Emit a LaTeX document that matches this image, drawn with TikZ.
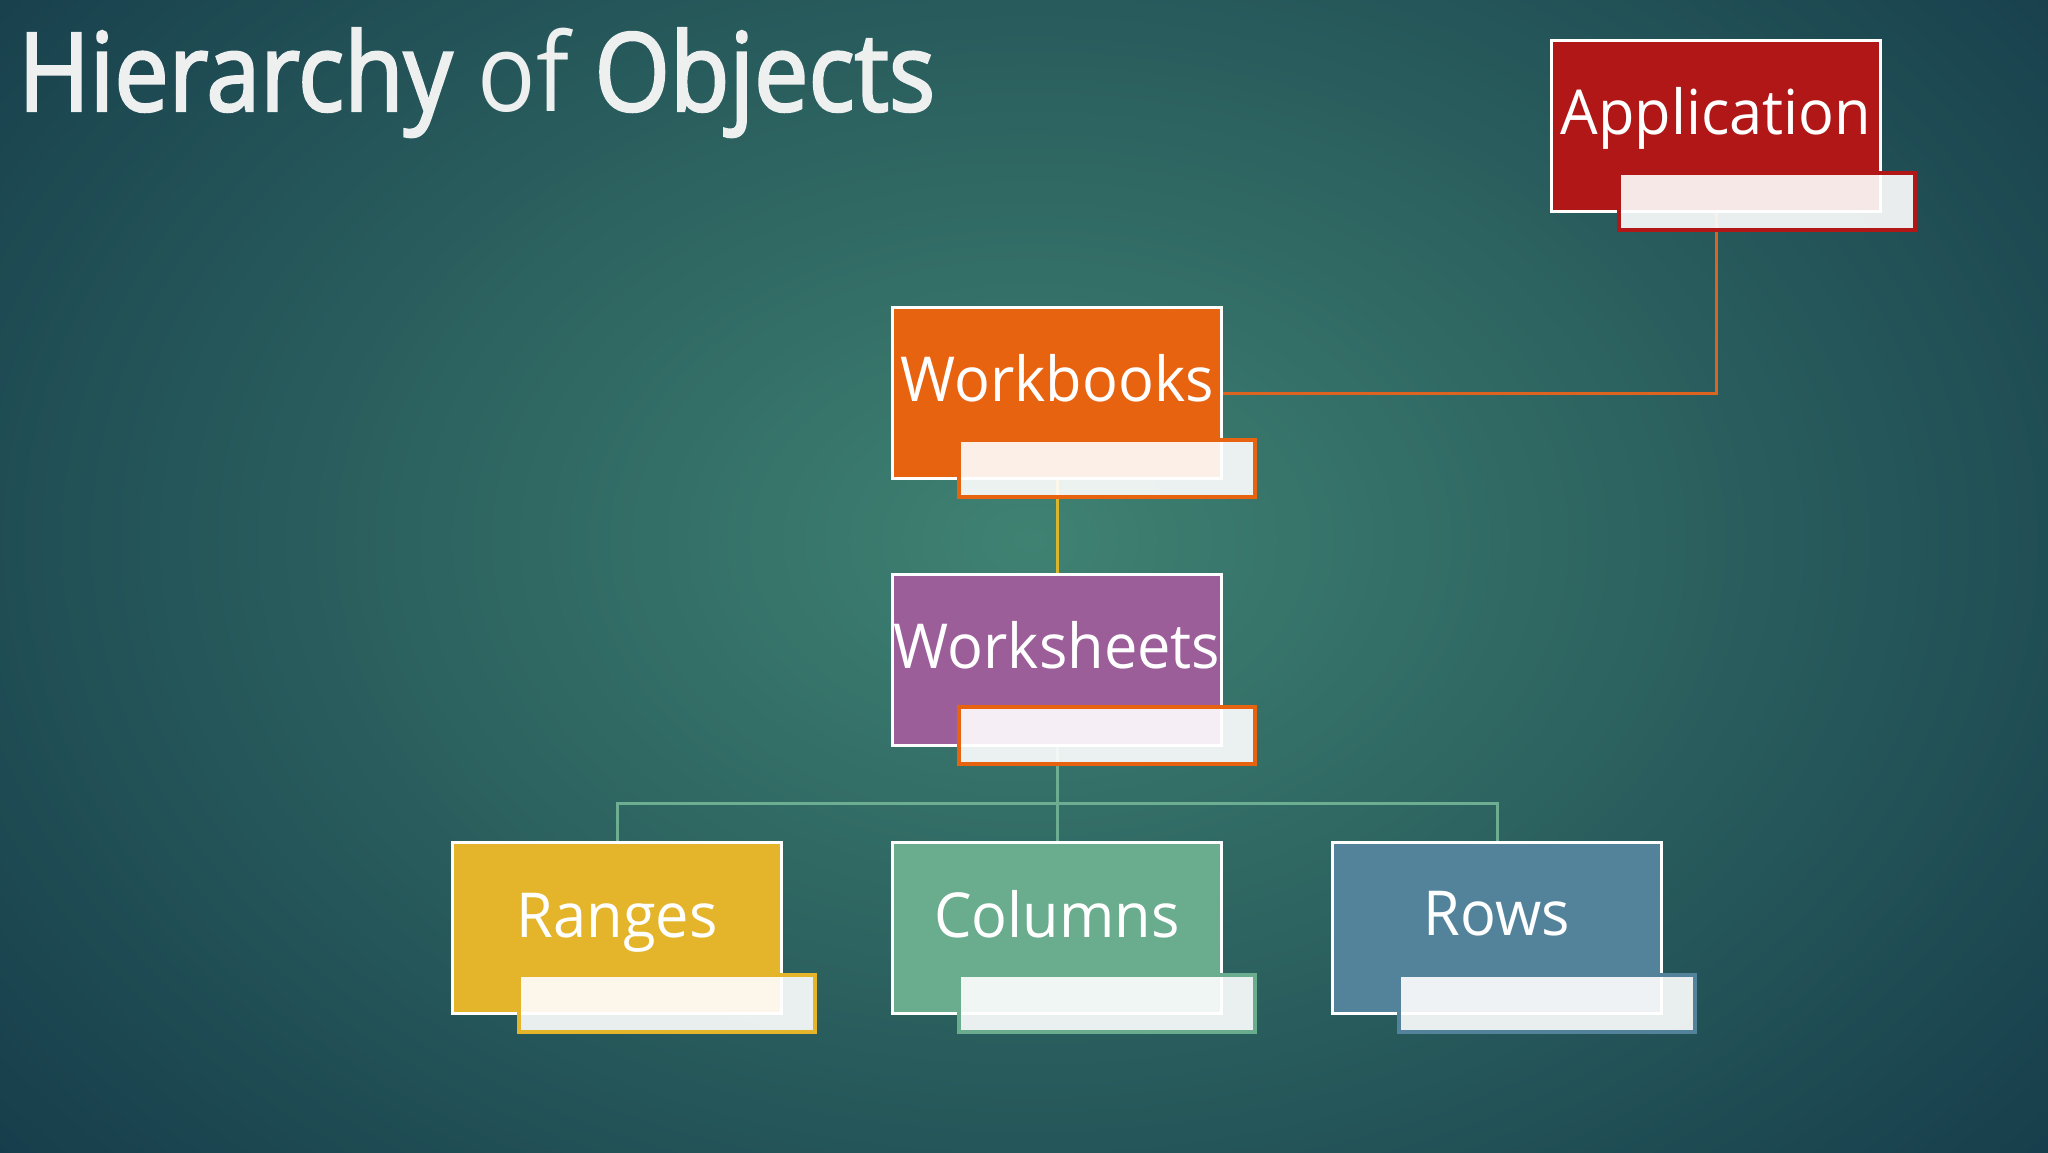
\documentclass[tikz,border=0pt]{standalone}
\usepackage{fontspec}
\setmainfont{Open Sans}
\newfontfamily\boxfont{Open Sans}[FakeStretch=0.96]
\newfontfamily\titlefont{Open Sans}[FakeStretch=0.89]
\newfontfamily\titleboldfont{Open Sans}[FakeStretch=0.89, FakeBold=2.2]
\usetikzlibrary{calc}
\definecolor{bgout}{HTML}{163D4B}
\definecolor{bgin}{HTML}{3F8272}
\definecolor{appc}{HTML}{B11717}
\definecolor{wbc}{HTML}{E8630F}
\definecolor{wsc}{HTML}{9B5E99}
\definecolor{rgc}{HTML}{E4B52A}
\definecolor{coc}{HTML}{69AC8E}
\definecolor{rwc}{HTML}{53839B}
\definecolor{lnorange}{HTML}{DD6420}
\definecolor{lnyellow}{HTML}{D8B72E}
\definecolor{lngreen}{HTML}{6DAE93}
\definecolor{titlec}{HTML}{EEF0F0}
\begin{document}
\begin{tikzpicture}[x=1pt,y=-1pt,
  mainbox/.style={draw=white, line width=3pt, minimum width=329pt, minimum height=171pt, anchor=north west, inner sep=0pt},
  subbox/.style={fill=white, fill opacity=0.9, line width=3.5pt, minimum width=296pt, minimum height=57pt, anchor=north west, inner sep=0pt},
  lbl/.style={anchor=base, text=white, inner sep=0pt, font=\boxfont\fontsize{62}{70}\selectfont},
  conn/.style={line width=3pt}
]
\useasboundingbox (0,0) rectangle (2048,1152);
% background
\fill[bgout] (0,0) rectangle (2048,1152);
\begin{scope}
  \clip (0,0) rectangle (2048,1152);
  \shade[inner color=bgin, outer color=bgout] (1030,540) ellipse [x radius=1350, y radius=950];
\end{scope}
% title
\node[anchor=base west, inner sep=0pt, text=titlec, font=\fontsize{109}{120}\selectfont] (title) at (18,111) {\titleboldfont Hierarchy \titlefont of \titleboldfont Objects};
% main boxes
\node[mainbox, fill=appc] (app) at (1550,39) {};
\node[mainbox, fill=wbc] (wb) at (891,306) {};
\node[mainbox, fill=wsc] (ws) at (891,573) {};
\node[mainbox, fill=rgc] (rg) at (451,841) {};
\node[mainbox, fill=coc] (co) at (891,841) {};
\node[mainbox, fill=rwc] (rw) at (1331,841) {};
\coordinate (bus) at (0,803);
% labels
\node[lbl] (appT) at ($(app.north)+(0,95)$) {Application};
\node[lbl] (wbT) at ($(wb.north)+(0,95)$) {Workbooks};
\node[lbl] (wsT) at ($(ws.north)+(0,95)$) {Worksheets};
\node[lbl] (rgT) at ($(rg.north)+(0,96)$) {Ranges};
\node[lbl] (coT) at ($(co.north)+(0,96)$) {Columns};
\node[lbl] (rwT) at ($(rw.north)+(0,94)$) {Rows};
% connectors
\draw[conn, lnorange] (app.south) |- (wb.east);
\draw[conn, lnyellow] (wb.south) -- (ws.north);
\draw[conn, lngreen] (ws.south) -- (co.north);
\draw[conn, lngreen] (rg.north) -- (rg.north |- bus) -- (rw.north |- bus) -- (rw.north);
% sub boxes
\node[subbox, draw=appc] (appS) at (1617,171) {};
\node[subbox, draw=wbc] (wbS) at (957,438) {};
\node[subbox, draw=wbc] (wsS) at (957,705) {};
\node[subbox, draw=rgc] (rgS) at (517,973) {};
\node[subbox, draw=coc] (coS) at (957,973) {};
\node[subbox, draw=rwc] (rwS) at (1397,973) {};
\end{tikzpicture}
\end{document}
